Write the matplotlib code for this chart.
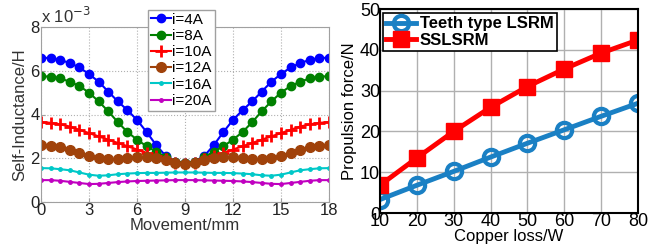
import numpy as np
import matplotlib.pyplot as plt

plt.rcParams['font.family'] = ['Liberation Sans', 'DejaVu Sans']

# left panel: self-inductance vs movement (values in 1e-3 H)
movement = [0, 0.6, 1.2, 1.8, 2.4, 3.0, 3.6, 4.2, 4.8, 5.4, 6.0, 6.6, 7.2, 7.8, 8.4, 9.0,
            9.6, 10.2, 10.8, 11.4, 12.0, 12.6, 13.2, 13.8, 14.4, 15.0, 15.6, 16.2, 16.8, 17.4, 18.0]
L_4A = [6.6, 6.58, 6.5, 6.35, 6.15, 5.85, 5.5, 5.05, 4.6, 4.2, 3.75, 3.2, 2.6, 2.1, 1.85, 1.8,
        1.85, 2.1, 2.6, 3.2, 3.75, 4.2, 4.6, 5.05, 5.5, 5.85, 6.15, 6.35, 6.5, 6.58, 6.6]
L_8A = [5.75, 5.73, 5.65, 5.5, 5.3, 5.0, 4.6, 4.15, 3.65, 3.2, 2.85, 2.55, 2.3, 2.05, 1.85, 1.8,
        1.85, 2.05, 2.3, 2.55, 2.85, 3.2, 3.65, 4.15, 4.6, 5.0, 5.3, 5.5, 5.65, 5.73, 5.75]
L_10A = [3.65, 3.62, 3.55, 3.45, 3.3, 3.15, 3.0, 2.85, 2.7, 2.55, 2.4, 2.25, 2.1, 1.95, 1.8, 1.75,
         1.8, 1.95, 2.1, 2.25, 2.4, 2.55, 2.7, 2.85, 3.0, 3.15, 3.3, 3.45, 3.55, 3.62, 3.65]
L_12A = [2.6, 2.57, 2.5, 2.4, 2.25, 2.1, 2.0, 1.95, 1.95, 2.0, 2.05, 2.05, 2.0, 1.9, 1.8, 1.75,
         1.8, 1.9, 2.0, 2.05, 2.05, 2.0, 1.95, 1.95, 2.0, 2.1, 2.25, 2.4, 2.5, 2.57, 2.6]
L_16A = [1.55, 1.54, 1.5, 1.45, 1.35, 1.25, 1.2, 1.22, 1.27, 1.3, 1.32, 1.33, 1.33, 1.34, 1.35, 1.35,
         1.35, 1.34, 1.33, 1.33, 1.32, 1.3, 1.27, 1.22, 1.2, 1.25, 1.35, 1.45, 1.5, 1.54, 1.55]
L_20A = [1.0, 1.0, 0.97, 0.92, 0.87, 0.82, 0.83, 0.87, 0.91, 0.94, 0.96, 0.97, 0.98, 0.99, 1.0, 1.0,
         1.0, 0.99, 0.98, 0.97, 0.96, 0.94, 0.91, 0.87, 0.83, 0.82, 0.87, 0.92, 0.97, 1.0, 1.0]
curves = [
    ('i=4A', L_4A, '#0000ff', 'o', 6),
    ('i=8A', L_8A, '#008000', 'o', 6),
    ('i=10A', L_10A, '#ff0000', '+', 9),
    ('i=12A', L_12A, '#a0420a', 'o', 7),
    ('i=16A', L_16A, '#00c8c8', '.', 5),
    ('i=20A', L_20A, '#c000c0', '.', 5),
]

# right panel: propulsion force vs copper loss
copper_loss = [10, 20, 30, 40, 50, 60, 70, 80]
force_teeth = [3.3, 6.8, 10.2, 13.7, 17.1, 20.4, 23.7, 26.9]
force_ss = [6.8, 13.5, 20.0, 25.9, 31.0, 35.3, 39.2, 42.4]

fig = plt.figure(figsize=(6.55, 2.46), dpi=100)

ax1 = fig.add_axes([41/655, 1-202/246, 288/655, 175/246])
for lab, vals, col, mk, ms in curves:
    ax1.plot(movement, np.array(vals), color=col, marker=mk, ms=ms, lw=1.5,
             mew=2 if mk == '+' else 1, label=lab)
ax1.set_xlim(0, 18)
ax1.set_ylim(0, 8)
ax1.set_xticks([0, 3, 6, 9, 12, 15, 18])
ax1.set_yticks([0, 2, 4, 6, 8])
ax1.grid(True, ls=':', color='#b0b0b0', lw=0.8)
for s in ax1.spines.values():
    s.set_color('#a0a0a0')
ax1.tick_params(labelsize=12, length=3, color='#a0a0a0', pad=1, direction='in',
                labelcolor='#222222')
ax1.set_xlabel('Movement/mm', fontsize=12, color='#333333', labelpad=0)
ax1.set_ylabel('Self-Inductance/H', fontsize=12, color='#333333', labelpad=2)
ax1.text(0.0, 1.005, r'x 10$^{-3}$', transform=ax1.transAxes, fontsize=12,
         color='#333333', va='bottom', ha='left')
leg1 = ax1.legend(loc='upper left', bbox_to_anchor=(107/288, 1.1), fontsize=11,
                  handlelength=1.3, handletextpad=0.1, borderpad=0.2, labelspacing=0.15,
                  fancybox=False, framealpha=1, edgecolor='#a0a0a0', borderaxespad=0)

ax2 = fig.add_axes([380/655, 1-213/246, 258/655, 204/246])
ax2.plot(copper_loss, force_teeth, color='#1a80c4', marker='o', ms=11, mfc='none',
         mew=3, lw=3.5, label='Teeth type LSRM')
ax2.plot(copper_loss, force_ss, color='#ff0000', marker='s', ms=11, lw=3.5,
         label='SSLSRM')
ax2.set_xlim(10, 80)
ax2.set_ylim(0, 50)
ax2.set_xticks(copper_loss)
ax2.set_yticks([0, 10, 20, 30, 40, 50])
ax2.grid(True, color='#b0b0b0', lw=1)
for s in ax2.spines.values():
    s.set_color('black')
    s.set_linewidth(1.5)
ax2.tick_params(labelsize=13, length=0, pad=0)
ax2.set_xlabel('Copper loss/W', fontsize=12, labelpad=-1)
ax2.set_ylabel('Propulsion force/N', fontsize=12, labelpad=2)
leg2 = ax2.legend(loc='upper left', bbox_to_anchor=(3/258, 0.98), prop={'size': 12, 'weight': 'bold'},
                  handlelength=1.8, handletextpad=0.2, borderpad=0.2, labelspacing=0.1,
                  fancybox=False, framealpha=1, edgecolor='black', borderaxespad=0)
leg2.get_frame().set_linewidth(1.2)

fig.savefig('out.png', dpi=100)
